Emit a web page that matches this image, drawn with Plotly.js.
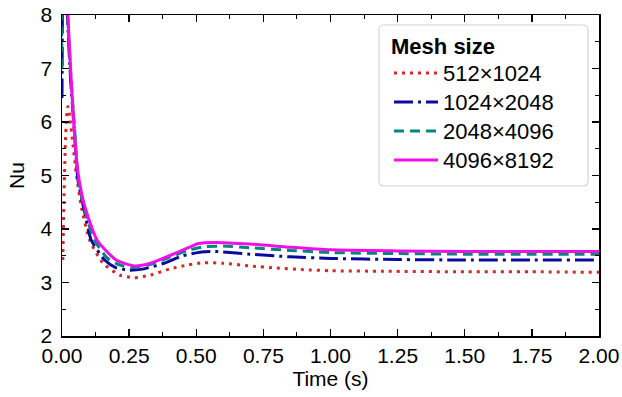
<!DOCTYPE html>
<html>
<head>
<meta charset="utf-8">
<script src="https://cdn.plot.ly/plotly-3.0.1.min.js"></script>
<style>html,body{margin:0;padding:0;background:#fff;}#chart{width:622px;height:397px;}</style>
</head>
<body>
<div id="chart"></div>
<script>
// Data
const seriesNames = ["512×1024", "1024×2048", "2048×4096", "4096×8192"];

const t512 = [0.003, 0.007, 0.012, 0.017, 0.022, 0.03, 0.041, 0.053, 0.072, 0.103, 0.153, 0.215, 0.27, 0.33, 0.4, 0.47, 0.53, 0.6, 0.7, 0.8, 0.9, 1.0, 1.2, 1.5, 1.75, 2.0];
const nu512 = [3.42, 4.5, 5.5, 6.1, 6.29, 6.05, 5.57, 5.04, 4.42, 3.79, 3.36, 3.14, 3.09, 3.14, 3.25, 3.33, 3.37, 3.36, 3.31, 3.27, 3.24, 3.22, 3.21, 3.2, 3.2, 3.19];

const t1024 = [0.0, 0.003, 0.008, 0.02, 0.032, 0.045, 0.06, 0.085, 0.109, 0.159, 0.2, 0.25, 0.3, 0.38, 0.45, 0.52, 0.57, 0.7, 0.85, 1.0, 1.25, 1.5, 2.0];
const nu1024 = [6.45, 9.0, 10.0, 8.0, 6.8, 5.9, 4.9, 4.3, 3.79, 3.42, 3.28, 3.23, 3.25, 3.36, 3.5, 3.57, 3.58, 3.53, 3.48, 3.45, 3.43, 3.42, 3.42];

const t2048 = [0.0, 0.005, 0.01, 0.021, 0.033, 0.046, 0.06, 0.085, 0.12, 0.17, 0.22, 0.27, 0.33, 0.4, 0.47, 0.53, 0.6, 0.7, 0.85, 1.0, 1.25, 1.5, 2.0];
const nu2048 = [7.0, 10.0, 10.0, 8.0, 6.85, 5.95, 4.95, 4.35, 3.8, 3.45, 3.32, 3.28, 3.34, 3.47, 3.6, 3.67, 3.68, 3.65, 3.6, 3.56, 3.54, 3.53, 3.53];

const t4096 = [0.0, 0.01, 0.022, 0.034, 0.046, 0.06, 0.085, 0.131, 0.202, 0.27, 0.33, 0.4, 0.47, 0.508, 0.57, 0.7, 0.85, 1.0, 1.25, 1.5, 2.0];
const nu4096 = [12.0, 10.0, 8.0, 6.8, 5.8, 5.04, 4.42, 3.79, 3.42, 3.31, 3.36, 3.5, 3.65, 3.73, 3.75, 3.72, 3.66, 3.61, 3.59, 3.58, 3.58];

const xTickVals = [0, 0.25, 0.5, 0.75, 1.0, 1.25, 1.5, 1.75, 2.0];
const xTickText = ["0.00", "0.25", "0.50", "0.75", "1.00", "1.25", "1.50", "1.75", "2.00"];
const yTickVals = [2, 3, 4, 5, 6, 7, 8];

const FONT = "Liberation Sans, Arial, sans-serif";
const big = s => `<span style="font-size:22px">${s}</span>`;

const traces = [
  {x: t512, y: nu512, name: big(seriesNames[0]), mode: "lines",
   line: {color: "#d62728", width: 3, dash: "3px,5px", shape: "spline", smoothing: 0.6}},
  {x: t1024, y: nu1024, name: big(seriesNames[1]), mode: "lines",
   line: {color: "#0a0aa0", width: 3, dash: "19px,5px,3px,5px", shape: "spline", smoothing: 0.6}},
  {x: t2048, y: nu2048, name: big(seriesNames[2]), mode: "lines",
   line: {color: "#00877a", width: 3, dash: "10px,6px", shape: "spline", smoothing: 0.6}},
  {x: t4096, y: nu4096, name: big(seriesNames[3]), mode: "lines",
   line: {color: "#f20ee6", width: 3, shape: "spline", smoothing: 0.6}}
];

const axisCommon = {
  showline: true, linecolor: "#000", linewidth: 1.5, mirror: "allticks",
  ticks: "inside", ticklen: 7, tickwidth: 1.3, tickcolor: "#000",
  showgrid: false, zeroline: false,
  tickfont: {family: FONT, size: 21, color: "#000"}
};

// legend frame (rounded box) in paper coordinates
const rx = 5 / 537, ry = 5 / 321;
const bx0 = 0.5903, bx1 = 0.9795, by0 = 0.4673, by1 = 0.9688;
const boxPath = `M${bx0 + rx},${by1} L${bx1 - rx},${by1} Q${bx1},${by1} ${bx1},${by1 - ry} ` +
  `L${bx1},${by0 + ry} Q${bx1},${by0} ${bx1 - rx},${by0} L${bx0 + rx},${by0} Q${bx0},${by0} ${bx0},${by0 + ry} ` +
  `L${bx0},${by1 - ry} Q${bx0},${by1} ${bx0 + rx},${by1} Z`;

const layout = {
  width: 622, height: 397,
  margin: {l: 62, r: 23, t: 15, b: 61},
  paper_bgcolor: "#fff", plot_bgcolor: "#fff",
  font: {family: FONT, color: "#000"},
  xaxis: Object.assign({}, axisCommon, {
    range: [0, 2], tickmode: "array", tickvals: xTickVals, ticktext: xTickText,
    minor: {dtick: 0.125, tick0: 0, ticks: "inside", ticklen: 4, tickcolor: "#000", tickwidth: 1},
    title: {text: "Time (s)", font: {family: FONT, size: 21, color: "#000"}, standoff: 2}
  }),
  yaxis: Object.assign({}, axisCommon, {
    range: [2, 8], tickmode: "array", tickvals: yTickVals, ticklabelstandoff: 4,
    minor: {dtick: 0.5, tick0: 0, ticks: "inside", ticklen: 4, tickcolor: "#000", tickwidth: 1},
    title: {text: "Nu", font: {family: FONT, size: 21, color: "#000"}, standoff: 10}
  }),
  shapes: [{type: "path", xref: "paper", yref: "paper", path: boxPath,
            line: {color: "#d4d4d4", width: 1.2}, fillcolor: "#fff", layer: "above"}],
  showlegend: true,
  legend: {
    x: 0.609, y: 0.981, xanchor: "left", yanchor: "top",
    bgcolor: "rgba(0,0,0,0)", borderwidth: 0,
    font: {family: FONT, size: 20, color: "#000"},
    itemwidth: 44,
    title: {text: '<span style="font-size:22px"><b>Mesh size</b></span>', font: {family: FONT, size: 25, color: "#000"}},
    traceorder: "normal"
  }
};

Plotly.newPlot("chart", traces, layout, {staticPlot: true, displayModeBar: false});
</script>
</body>
</html>
